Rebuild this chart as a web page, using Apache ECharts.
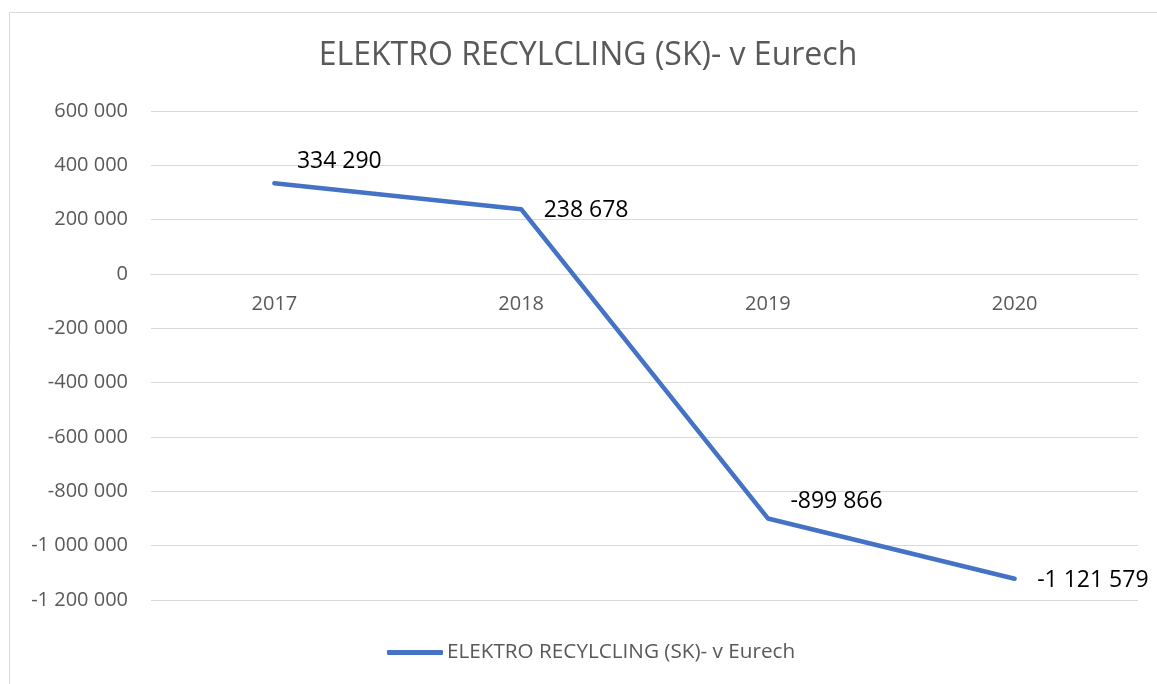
<!DOCTYPE html>
<html>
<head>
<meta charset="utf-8">
<script src="https://cdn.jsdelivr.net/npm/echarts@6/dist/echarts.min.js"></script>
<style>
html,body{margin:0;padding:0;background:#fff;}
#c{width:1157px;height:684px;}
</style>
</head>
<body>
<div id="c"></div>
<script>
const titleText = 'ELEKTRO RECYLCLING (SK)- v Eurech';
const seriesName = 'ELEKTRO RECYLCLING (SK)- v Eurech';
const categories = ['2017', '2018', '2019', '2020'];
const values = [334290, 238678, -899866, -1121579];
const labelOffsets = [[0, -22], [0, 1], [0, -17], [0, 2]];

function fmt(v) {
  const s = Math.abs(Math.round(v)).toString().replace(/\B(?=(\d{3})+(?!\d))/g, ' ');
  return (v < 0 ? '-' : '') + s;
}

const chart = echarts.init(document.getElementById('c'));
const FONT = 'Open Sans';
chart.setOption({
  animation: false,
  backgroundColor: '#fff',
  graphic: [{
    type: 'rect', shape: {x: 9.5, y: 12.5, width: 1170, height: 700},
    style: {fill: 'none', stroke: '#d9d9d9', lineWidth: 1}, silent: true, z: -1
  }],
  title: {
    text: titleText,
    left: 583, top: 35, textAlign: 'center',
    textStyle: {fontFamily: FONT, fontSize: 32, fontWeight: 'normal', color: '#595959'}
  },
  legend: {
    data: [seriesName],
    left: 382, top: 637,
    icon: 'roundRect', itemWidth: 56, itemHeight: 5, itemGap: 10,
    textStyle: {fontFamily: FONT, fontSize: 20.7, color: '#595959', padding: [0, 0, 0, -1]}
  },
  grid: {left: 151, right: 19, top: 111, bottom: 84, containLabel: false},
  xAxis: {
    type: 'category', data: categories, boundaryGap: true,
    position: 'bottom', offset: -326,
    axisLine: {onZero: false, lineStyle: {color: '#d9d9d9', width: 1}},
    axisTick: {show: false},
    axisLabel: {fontFamily: FONT, fontSize: 20, color: '#595959', margin: 20}
  },
  yAxis: {
    type: 'value', min: -1200000, max: 600000, interval: 200000,
    axisLine: {show: false}, axisTick: {show: false},
    splitLine: {lineStyle: {color: '#d9d9d9', width: 1}},
    axisLabel: {fontFamily: FONT, fontSize: 20, color: '#595959', margin: 23, formatter: fmt}
  },
  series: [{
    name: seriesName, type: 'line',
    data: values.map((v, i) => ({value: v, label: {offset: labelOffsets[i]}})),
    symbol: 'circle', symbolSize: 1, showSymbol: true,
    itemStyle: {color: '#4472C4'},
    lineStyle: {color: '#4472C4', width: 4.5, cap: 'round', join: 'round'},
    label: {
      show: true, position: 'right', distance: 22,
      fontFamily: FONT, fontSize: 23, color: '#000',
      formatter: p => fmt(p.value)
    }
  }]
});
</script>
</body>
</html>
